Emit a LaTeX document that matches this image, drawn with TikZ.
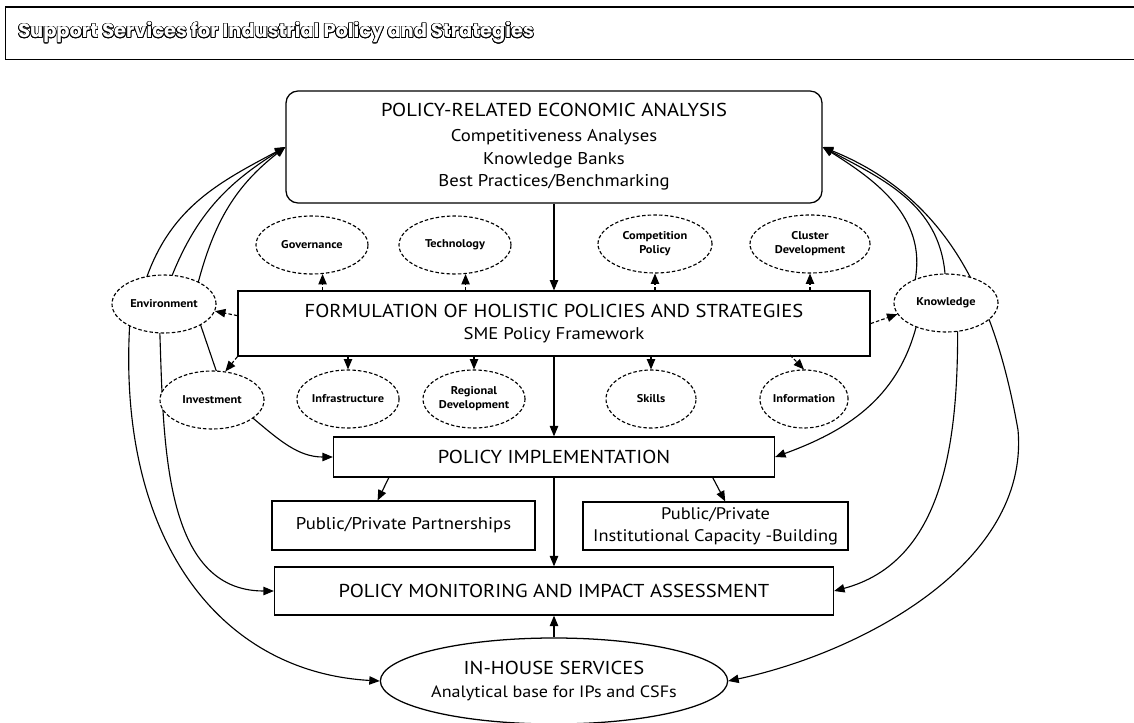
\documentclass[tikz,border=0pt]{standalone}
\usepackage{fontspec}
\setmainfont{PT Sans}[FakeStretch=1.1]
\newfontfamily\headfont{Poppins}
\usetikzlibrary{shapes.geometric,arrows.meta,backgrounds}

\newcommand\headtext{Support Services for Industrial Policy and Strategies}
\newcommand\capsline{\fontsize{13.3}{16}\selectfont}

\tikzset{
  box/.style={draw, line width=0.9pt, fill=white, align=center, inner sep=0pt,
    font=\fontsize{12.1}{16.3}\selectfont},
  topic/.style={ellipse, draw, dash pattern=on 2.5pt off 1.5pt, line width=0.8pt,
    fill=white, inner sep=0pt, minimum height=1.45cm, align=center,
    font=\fontsize{8}{10}\selectfont\bfseries},
  arrow/.style={line width=0.8pt, -{Triangle[length=2.6mm,width=2.1mm]}},
  dashlink/.style={arrow, dash pattern=on 2.5pt off 1.5pt},
  link/.style={line width=0.8pt,
    {Triangle[length=2.6mm,width=2.1mm]}-{Triangle[length=2.6mm,width=2.1mm]}},
  headline/.style={anchor=base west, inner sep=0pt,
    font=\headfont\bfseries\fontsize{13.8}{16}\selectfont}
}

\begin{document}
\begin{tikzpicture}
  \useasboundingbox (0,0) rectangle (28.35,-18.075);

  % Title bar
  \draw[line width=1.2pt] (28.35,-0.175) -- (0.125,-0.175);
  \draw[line width=0.6pt] (0.125,-0.175) -- (0.125,-1.475) -- (28.35,-1.475);
  \foreach \a in {0,22.5,...,337.5}
    \node[headline, text=black, shift={(\a:0.5pt)}] (rim\a) at (0.45,-0.95) {\headtext};
  \node[headline, text=white] (head) at (0.45,-0.95) {\headtext};

  % Main column
  \node[box, rounded corners=0.3cm, minimum width=13.4cm, minimum height=2.8cm] (econ) at (13.85,-3.675)
    {{\capsline POLICY-RELATED ECONOMIC ANALYSIS}\\[1pt] Competitiveness Analyses\\ Knowledge Banks\\ Best Practices/Benchmarking};
  \node[box, minimum width=15.8cm, minimum height=1.625cm] (form) at (13.85,-8.09)
    {{\capsline FORMULATION OF HOLISTIC POLICIES AND STRATEGIES}\\ SME Policy Framework};
  \node[box, minimum width=11.025cm, minimum height=1cm, font=\capsline] (impl) at (13.85,-11.425)
    {POLICY IMPLEMENTATION};
  \node[box, minimum width=6.575cm, minimum height=1.225cm] (ppp) at (10.09,-13.14)
    {Public/Private Partnerships};
  \node[box, minimum width=6.625cm, minimum height=1.2cm, font=\fontsize{11.9}{15.6}\selectfont] (cap) at (17.89,-13.15)
    {Public/Private\\ Institutional Capacity -Building};
  \node[box, minimum width=13.975cm, minimum height=1.2cm, font=\capsline] (mon) at (13.85,-14.775)
    {POLICY MONITORING AND IMPACT ASSESSMENT};
  \node[box, ellipse, minimum width=7.95cm, minimum height=2.15cm, font=\fontsize{11.7}{16}\selectfont] (inh) at (13.85,-17.025)
    {{\capsline IN-HOUSE SERVICES}\\ Analytical base for IPs and CSFs};

  % Policy areas
  \foreach \nm/\x/\y/\w/\lbl in {
      gov/7.8/-6.125/2.8/Governance,
      tech/11.375/-6.125/2.8/Technology,
      comp/16.375/-6.1/2.85/{Competition\\Policy},
      clus/20.25/-6.1/3.0/{Cluster\\Development},
      env/4.1/-7.6/2.6/Environment,
      know/23.65/-7.575/2.6/Knowledge,
      inv/5.3/-10.0/2.6/Investment,
      infra/8.7/-9.975/2.25/Infrastructure,
      reg/11.85/-9.975/2.55/{Regional\\Development},
      skills/16.275/-9.975/2.25/Skills,
      info/20.1/-9.975/2.2/Information}
    \node[topic, minimum width=\w cm] (\nm) at (\x,\y) {\lbl};

  % Downward flow
  \draw[arrow] (econ) -- (form);
  \draw[arrow] (form) -- (impl);
  \draw[arrow] (impl) -- (mon);
  \draw[arrow] (inh) -- (mon);
  \draw[arrow] ([xshift=1.4cm]impl.south west) -- ([xshift=-0.65cm]ppp.north);
  \draw[arrow] ([xshift=-1.56cm]impl.south east) -- ([xshift=0.24cm]cap.north);

  % Framework to policy areas
  \draw[dashlink] (gov.-70 |- form.north) -- (gov.-70);
  \draw[dashlink] (tech.-70 |- form.north) -- (tech.-70);
  \foreach \nm in {comp,clus}
    \draw[dashlink] (\nm.south |- form.north) -- (\nm.south);
  \foreach \nm in {infra,reg,skills}
    \draw[dashlink] (\nm.north |- form.south) -- (\nm.north);
  \draw[dashlink] (info.north) +(-0.35,0.36) -- (info.north);
  \draw[dashlink] (form.south west) -- (inv.65);
  \draw[dashlink] ([yshift=0.2cm]form.west) -- (env.-8);
  \draw[dashlink] (form.east) -- (know.193);

  % Feedback loops to the analysis box
  \begin{scope}[on background layer]
    \draw[link] (econ.west) to[out=208,in=70] (env.121) -- (env.213)
      .. controls (2.95,-13.5) and (5.5,-16.8) .. (inh.west);
    \draw[link] (econ.west) to[out=212,in=68] (env.74) -- (env.262)
      to[out=-88,in=180] (mon.west);
    \draw[link] (econ.west) to[out=218,in=75] (env.33) -- (env.-30) -- (inv.82) -- (inv.-24)
      to[out=-40,in=180] (impl.west);
    \draw[link] (econ.east) to[out=-22,in=100] (25.45,-10.75)
      to[out=-85,in=12,looseness=0.9] (inh.east);
    \draw[link] (econ.east) to[out=-28,in=95] (know.92) -- (know.-68)
      to[out=-90,in=15] (mon.east);
    \draw[link] (econ.east) to[out=-32,in=80] (know.142) -- (know.219)
      to[out=-105,in=20] (impl.east);
  \end{scope}
\end{tikzpicture}
\end{document}
